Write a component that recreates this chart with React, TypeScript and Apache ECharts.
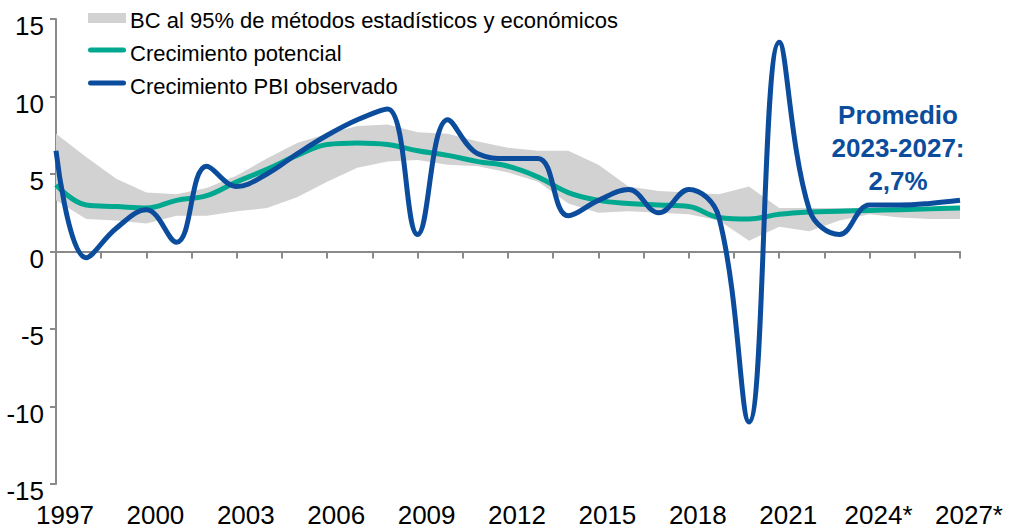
import React, { useEffect, useRef } from "react";
import * as echarts from "echarts";

const years = [
  1997, 1998, 1999, 2000, 2001, 2002, 2003, 2004, 2005, 2006, 2007, 2008, 2009, 2010, 2011, 2012,
  2013, 2014, 2015, 2016, 2017, 2018, 2019, 2020, 2021, 2022, 2023, 2024, 2025, 2026, 2027,
];
const xTickLabels = ["1997", "2000", "2003", "2006", "2009", "2012", "2015", "2018", "2021", "2024*", "2027*"];

const observed = [
  6.5, -0.4, 1.5, 2.7, 0.6, 5.5, 4.2, 5.0, 6.3, 7.5, 8.5, 9.2, 1.1, 8.5, 6.3, 6.0,
  6.0, 2.3, 3.3, 4.0, 2.5, 4.0, 2.2, -11.0, 13.5, 2.7, 1.1, 3.0, 3.0, 3.1, 3.3,
];
const potential = [
  4.3, 3.0, 2.9, 2.8, 3.3, 3.6, 4.5, 5.3, 6.2, 6.9, 7.0, 6.9, 6.5, 6.2, 5.8, 5.5,
  4.8, 3.8, 3.3, 3.1, 3.0, 2.9, 2.2, 2.1, 2.4, 2.55, 2.6, 2.65, 2.7, 2.75, 2.8,
];
const bandUpper = [
  7.6, 6.1, 4.7, 3.8, 3.7, 4.1, 4.9, 6.0, 7.0, 7.6, 8.1, 8.2, 7.7, 7.6, 7.1, 6.7,
  6.5, 6.5, 5.6, 4.2, 3.9, 3.8, 3.7, 4.2, 2.8, 2.8, 2.8, 2.8, 2.8, 2.8, 2.8,
];
const bandLower = [
  3.3, 2.1, 2.0, 1.8, 2.3, 2.3, 2.6, 2.8, 3.5, 4.5, 5.4, 5.8, 5.9, 5.6, 5.5, 5.1,
  4.5, 3.1, 2.5, 2.6, 2.5, 2.4, 2.0, 0.7, 1.6, 1.3, 2.0, 2.4, 2.2, 2.1, 2.1,
];

const BAND_NAME = "BC al 95% de métodos estadísticos y económicos";
const POT_NAME = "Crecimiento potencial";
const OBS_NAME = "Crecimiento PBI observado";
const NOTE = "Promedio\n2023-2027:\n2,7%";

const FONT = "'Liberation Sans', Arial, sans-serif";
const BLUE = "#0b4d9c";
const TEAL = "#00a88f";
const GREY = "#d3d2d3";
const AXIS = "#8a8a8a";

export default function App() {
  const ref = useRef<HTMLDivElement>(null);
  useEffect(() => {
    if (!ref.current) return;
    const chart = echarts.init(ref.current, undefined, { renderer: "svg" });
    const x0 = years[0];
    const xMax = years[years.length - 1] - x0;
    const pairs = (arr: number[]) => arr.map((v, i) => [years[i] - x0, v]);
    const legendItems = [
      { name: BAND_NAME, color: GREY, y: 18, h: 10, r: 0, ty: 20 },
      { name: POT_NAME, color: TEAL, y: 50, h: 5, r: 2.5, ty: 53 },
      { name: OBS_NAME, color: BLUE, y: 83, h: 5, r: 2.5, ty: 86 },
    ];
    const legendGraphics: any[] = [];
    legendItems.forEach((it) => {
      legendGraphics.push({
        type: "rect",
        shape: { x: 88, y: it.y - it.h / 2, width: 38, height: it.h, r: it.r },
        style: { fill: it.color },
        z: 10,
      });
      legendGraphics.push({
        type: "text",
        x: 130,
        y: it.ty,
        style: {
          text: it.name,
          fill: "#000",
          font: `22px ${FONT}`,
          textVerticalAlign: "middle",
        },
        z: 10,
      });
    });
    chart.setOption({
      animation: false,
      textStyle: { fontFamily: FONT },
      grid: { left: 56, right: 52, top: 19, bottom: 45, containLabel: false, outerBoundsMode: "none" },
      xAxis: [
        {
          type: "value",
          position: "bottom",
          min: 0,
          max: xMax,
          interval: 1.5,
          axisLine: { show: true, onZero: true, lineStyle: { color: AXIS, width: 2 } },
          axisTick: { show: true, length: 7, lineStyle: { color: AXIS, width: 2 } },
          splitLine: { show: false },
          axisLabel: { show: false },
        },
        {
          type: "value",
          position: "bottom",
          min: 0,
          max: xMax,
          interval: 3,
          axisLine: { show: false, onZero: false },
          axisTick: { show: false },
          splitLine: { show: false },
          axisLabel: {
            margin: 18,
            fontSize: 26,
            color: "#000",
            fontFamily: FONT,
            padding: [0, 0, 0, 18],
            showMinLabel: true,
            showMaxLabel: true,
            hideOverlap: false,
            formatter: (v: number) => xTickLabels[Math.round(v / 3)] ?? "",
          },
        },
      ],
      yAxis: {
        type: "value",
        min: -15,
        max: 15,
        interval: 5,
        axisLine: { show: true, onZero: false, lineStyle: { color: AXIS, width: 2 } },
        axisTick: { show: true, length: 6, lineStyle: { color: AXIS, width: 2 } },
        splitLine: { show: false },
        axisLabel: {
          fontSize: 26,
          color: "#000",
          margin: 12,
          fontFamily: FONT,
          verticalAlign: "top",
          lineHeight: 14,
        },
      },
      series: [
        {
          name: BAND_NAME,
          type: "custom",
          xAxisIndex: 0,
          data: years.map((y, i) => [y - x0, bandLower[i], bandUpper[i]]),
          encode: { x: 0, y: [1, 2] },
          silent: true,
          z: 1,
          itemStyle: { color: GREY },
          renderItem: (params: any, api: any) => {
            if (params.dataIndex !== 0) return null;
            const top = bandUpper.map((v, i) => api.coord([years[i] - x0, v]));
            const bottom = bandLower.map((v, i) => api.coord([years[i] - x0, v])).reverse();
            return {
              type: "polygon",
              shape: { points: top.concat(bottom) },
              style: { fill: GREY, stroke: "none" },
            };
          },
        },
        {
          name: POT_NAME,
          type: "line",
          xAxisIndex: 0,
          data: pairs(potential),
          symbol: "none",
          smooth: 0.4,
          itemStyle: { color: TEAL },
          lineStyle: { color: TEAL, width: 5 },
          z: 2,
        },
        {
          name: OBS_NAME,
          type: "line",
          xAxisIndex: 0,
          data: pairs(observed),
          symbol: "none",
          smooth: 0.4,
          itemStyle: { color: BLUE },
          lineStyle: { color: BLUE, width: 5 },
          z: 3,
        },
      ],
      graphic: [
        ...legendGraphics,
        {
          type: "text",
          x: 898,
          y: 98,
          style: {
            text: NOTE,
            fill: BLUE,
            font: `bold 26px ${FONT}`,
            lineHeight: 33,
            textAlign: "center",
          },
          z: 10,
        },
      ],
    });
    return () => chart.dispose();
  }, []);
  return (
    <div
      ref={ref}
      style={{ position: "fixed", left: 0, top: 0, width: 1012, height: 529, background: "#fff" }}
    />
  );
}
